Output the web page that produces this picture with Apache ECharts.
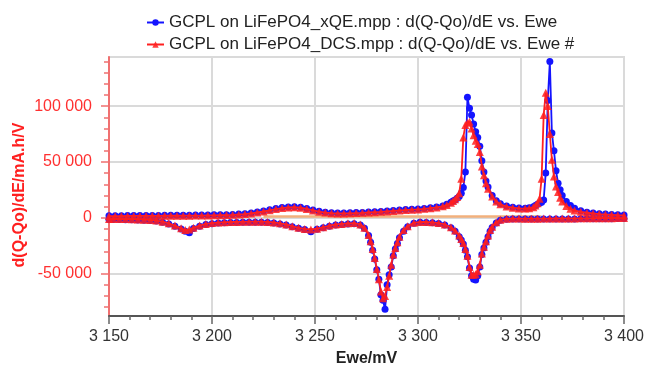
<!DOCTYPE html>
<html><head><meta charset="utf-8">
<script src="https://cdn.jsdelivr.net/npm/echarts@6/dist/echarts.min.js"></script>
<style>html,body{margin:0;padding:0;background:#fff}#c{width:646px;height:365px}</style>
</head><body><div id="c"></div>
<script>
var seriesNames = ['GCPL on LiFePO4_xQE.mpp : d(Q-Qo)/dE vs. Ewe', 'GCPL on LiFePO4_DCS.mpp : d(Q-Qo)/dE vs. Ewe #'];
var xTicks = [3150, 3200, 3250, 3300, 3350, 3400];
var yTicks = [-50000, 0, 50000, 100000];
var yMinorTicks = [-80000, -70000, -60000, -40000, -30000, -20000, -10000, 10000, 20000, 30000, 40000, 60000, 70000, 80000, 90000, 110000, 120000, 130000, 140000];

var chargeX = [
3150,3153,3156,3159,3162,3165,3168,3171,3174,3177,
3180,3183,3186,3189,3192,3195,3198,3201,3204,3207,
3210,3213,3216,3219,3222,3225,3228,3231,3234,3237,
3240,3243,3246,3249,3252,3255,3258,3261,3264,3267,
3270,3273,3276,3279,3282,3285,3288,3291,3294,3297,
3300,3303,3306,3309,3312,3314,3316,3317,3318,3319,
3320,3321,3322,3323,3324,3325,3326,3327,3328,3329,
3330,3331,3332,3333,3334,3336,3338,3340,3343,3346,
3349,3352,3354,3356,3357,3358,3359,3360,3361,3362,
3363,3364,3365,3366,3367,3368,3369,3370,3372,3374,
3376,3379,3382,3385,3388,3391,3394,3397,3400];

var redCharge = [
1500,1500,1500,1600,1600,1600,1700,1700,1700,1800,
1800,1800,1900,1900,2000,2000,2100,2200,2300,2400,
2600,2900,3300,3900,4700,5600,6700,7800,8700,9300,
9400,9000,7900,6600,5400,4600,4100,3900,3900,4000,
4200,4400,4700,5000,5300,5700,6100,6500,6900,7200,
7500,8000,8600,9300,10200,11500,13500,15000,16500,18500,
22000,35000,72000,83000,85000,86000,80000,74000,69000,66000,
59000,46000,38000,31000,26000,19000,14500,12000,10000,9000,
8400,8200,8500,9500,11000,13000,17000,35000,92000,112000,
100000,75000,52000,37000,28000,23000,18000,14500,10500,8000,
6500,5300,4500,3800,3300,2900,2600,2300,2100];

var blueCharge = [
1900,1900,1900,2000,2000,2000,2100,2100,2100,2200,
2200,2200,2300,2300,2400,2400,2500,2600,2700,2800,
3000,3300,3700,4300,5100,6000,7100,8200,9100,9700,
9800,9400,8300,7000,5800,5000,4500,4300,4300,4400,
4600,4800,5100,5400,5700,6100,6500,6900,7300,7600,
7900,8400,9000,9700,10600,12000,14000,15000,16000,17500,
19000,22000,27000,41000,108000,98000,92000,84000,77000,72000,
64000,51000,41000,33000,27500,20000,15300,12500,10500,9400,
8800,8600,8900,9800,11000,12000,13000,14000,16000,40000,
105000,140000,76000,60000,42000,31000,25000,20000,14500,11000,
8500,6200,5000,4200,3700,3300,3000,2700,2500];

var dischargeX = [
3400,3397,3394,3391,3388,3385,3382,3379,3376,3373,
3370,3367,3364,3361,3358,3355,3352,3349,3346,3343,
3340,3338,3336,3335,3334,3333,3332,3331,3330,3329,
3328,3327,3326,3325,3324,3323,3322,3321,3320,3318,
3316,3313,3310,3307,3304,3301,3298,3295,3293,3291,
3290,3289,3288,3287,3286,3285,3284,3283,3282,3281,
3280,3279,3278,3277,3276,3274,3272,3269,3266,3263,
3260,3257,3254,3251,3248,3245,3242,3239,3236,3233,
3230,3227,3224,3221,3218,3215,3212,3209,3206,3203,
3200,3197,3194,3191,3189,3187,3185,3182,3179,3176,
3173,3170,3167,3164,3161,3158,3155,3152,3150];

var redDischarge = [
-300,-300,-400,-400,-400,-500,-500,-500,-600,-600,
-600,-600,-700,-700,-800,-800,-800,-700,-700,-900,
-1800,-4000,-8000,-11000,-16000,-21000,-26000,-32000,-42000,-48000,
-50500,-51000,-51000,-44000,-34000,-28000,-22500,-19000,-16000,-11500,
-8500,-6000,-4800,-4100,-3800,-3700,-4500,-7500,-11000,-17000,
-22000,-27000,-33000,-42000,-52000,-62000,-70000,-72000,-66000,-55000,
-46000,-36000,-28000,-21000,-15500,-9000,-6000,-4800,-5000,-5500,
-6000,-7000,-8500,-9800,-10500,-10000,-9000,-7500,-6000,-5000,
-4200,-3700,-3500,-3500,-3500,-3600,-3700,-3800,-4000,-4300,
-4800,-5500,-7000,-9000,-10500,-11000,-9500,-7000,-5000,-3500,
-2500,-2000,-1700,-1500,-1300,-1200,-1100,-1000,-1000];

var blueDischarge = [
-700,-700,-800,-800,-800,-900,-900,-900,-1000,-1000,
-1000,-1000,-1100,-1100,-1200,-1200,-1200,-1100,-1100,-1300,
-2300,-4600,-8800,-12000,-17000,-22000,-27000,-33000,-44000,-52000,
-55800,-55000,-52000,-45000,-35000,-29000,-23500,-20000,-17000,-12000,
-9000,-6500,-5200,-4500,-4200,-4100,-5000,-8000,-12000,-18000,
-23000,-28000,-34000,-44000,-51000,-60000,-82000,-74000,-69000,-55000,
-46500,-37000,-29000,-22000,-16000,-9500,-6500,-5300,-5500,-6000,
-6500,-7500,-9000,-10400,-12500,-10600,-9500,-8000,-6500,-5500,
-4700,-4200,-4000,-4000,-4000,-4100,-4200,-4300,-4500,-4800,
-5300,-6000,-7500,-9600,-13400,-12000,-10000,-7500,-5500,-4000,
-3000,-2500,-2200,-2000,-1800,-1700,-1600,-1500,-1500];

var baselineX = [3225, 3360];
var baselineY = [1200, 1200];

function pairs(xs, ys) { return xs.map(function (x, i) { return [x, ys[i]]; }); }
var blueData = pairs(chargeX, blueCharge).concat(pairs(dischargeX, blueDischarge));
var redData = pairs(chargeX, redCharge).concat(pairs(dischargeX, redDischarge));
var baseData = pairs(baselineX, baselineY);

function sp(v) { return String(v).replace(/\B(?=(\d{3})+(?!\d))/g, ' '); }

var FONT = 'Liberation Sans, Arial, sans-serif';
var RED_AX = '#f07070';
var chart = echarts.init(document.getElementById('c'));
chart.setOption({
  animation: false,
  backgroundColor: '#fff',
  legend: {
    orient: 'vertical', left: 141, top: 9,
    itemWidth: 17, itemHeight: 8, itemGap: 5,
    data: seriesNames,
    textStyle: { fontSize: 17, color: '#222', fontFamily: FONT }
  },
  grid: { left: 109, right: 22, top: 57, bottom: 49, outerBoundsMode: 'none', containLabel: false, show: true, borderColor: '#dadada', borderWidth: 2, backgroundColor: 'transparent' },
  graphic: [{
    type: 'text', x: 20, y: 195, rotation: Math.PI / 2,
    style: { text: 'd(Q-Qo)/dE/mA.h/V', fill: '#ff2020', font: 'bold 16px ' + FONT, align: 'center', verticalAlign: 'middle' }
  }],
  xAxis: {
    type: 'value', min: xTicks[0], max: xTicks[xTicks.length - 1], interval: 50,
    name: 'Ewe/mV', nameLocation: 'middle', nameGap: 35,
    nameTextStyle: { fontSize: 16, fontWeight: 'bold', color: '#222', fontFamily: FONT },
    axisLine: { onZero: false, lineStyle: { color: '#555', width: 2 } },
    axisTick: { length: 8, lineStyle: { color: '#666', width: 1.5 } },
    minorTick: { show: true, splitNumber: 5, length: 4, lineStyle: { color: '#666', width: 1.5 } },
    axisLabel: { fontSize: 16, color: '#333', fontFamily: FONT, margin: 13, formatter: function (v) { return sp(v); } },
    splitLine: { show: true, lineStyle: { color: '#dadada', width: 2 } }
  },
  yAxis: [{
    type: 'value', min: -88000, max: 144000, position: 'left',
    axisLine: { show: true, onZero: false, lineStyle: { color: RED_AX, width: 2 } },
    axisTick: { show: true, length: 8, customValues: yTicks, lineStyle: { color: RED_AX, width: 1.5 } },
    axisLabel: {
      fontSize: 16, color: '#ff3030', fontFamily: FONT, margin: 17, customValues: yTicks,
      formatter: function (v) { return sp(v); }
    },
    splitLine: { show: true, lineStyle: { color: '#dadada', width: 2 } }
  }, {
    type: 'value', min: -88000, max: 144000, position: 'left', offset: 0,
    axisLine: { show: false, onZero: false },
    axisTick: { show: true, length: 5, customValues: yMinorTicks, lineStyle: { color: RED_AX, width: 1.5 } },
    axisLabel: { show: false, customValues: yMinorTicks },
    splitLine: { show: false }
  }],
  series: [{
    name: 'baseline', type: 'line', data: baseData, showSymbol: false, silent: true,
    lineStyle: { color: '#f2b07c', width: 2.5 }, z: 1
  }, {
    name: seriesNames[0], type: 'line', data: blueData,
    symbol: 'circle', symbolSize: 7, showSymbol: true, showAllSymbol: true,
    itemStyle: { color: '#1414ff' }, lineStyle: { color: '#1414ff', width: 1.8 }, z: 2
  }, {
    name: seriesNames[1], type: 'line', data: redData,
    symbol: 'triangle', symbolSize: 8, showSymbol: true, showAllSymbol: true,
    itemStyle: { color: 'rgba(255,30,30,0.85)' }, lineStyle: { color: '#ff2020', width: 1.8 }, z: 3
  }]
});
</script>
</body></html>
